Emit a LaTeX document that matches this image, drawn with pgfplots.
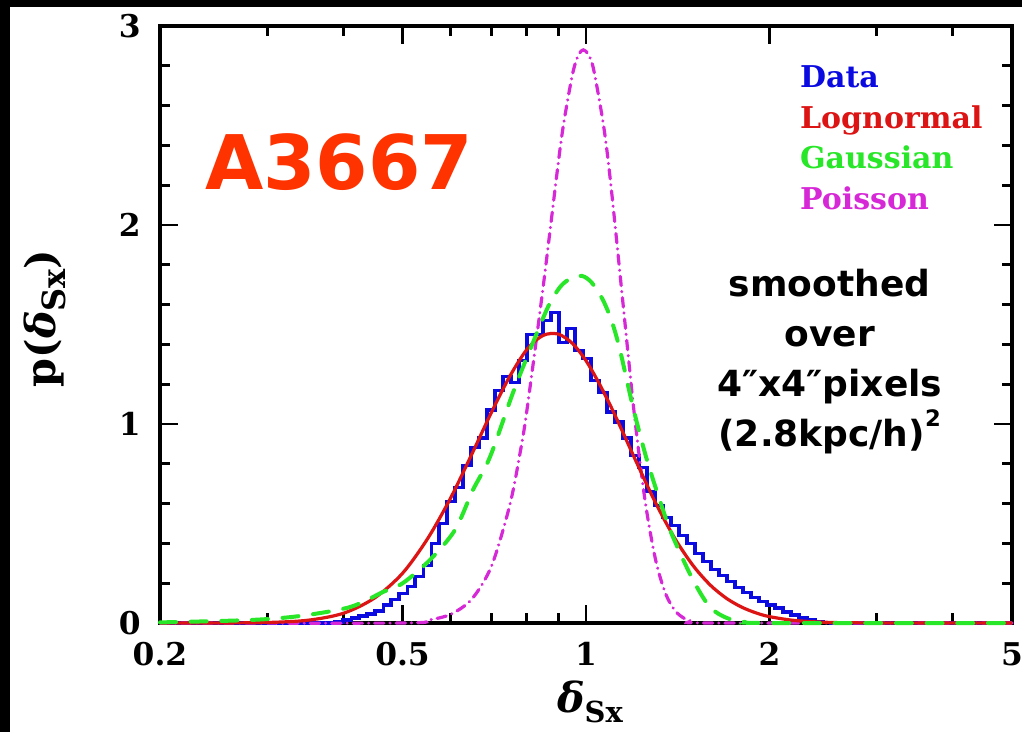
\documentclass[border=0pt]{standalone}
\usepackage{fontspec}
\setmainfont{DejaVu Serif}
\newfontfamily\sansfont{DejaVu Sans}
\usepackage{pgfplots}
\pgfplotsset{compat=1.18}

\definecolor{datablue}{RGB}{10,10,225}
\definecolor{lognred}{RGB}{220,20,20}
\definecolor{gaussgreen}{RGB}{40,230,40}
\definecolor{poissmag}{RGB}{215,40,215}
\definecolor{titlered}{RGB}{255,51,0}

\begin{document}
\begin{tikzpicture}
\useasboundingbox (0,0) rectangle (766.5pt,549pt);
\clip (0,0) rectangle (766.5pt,549pt);
\fill[black] (0,0) rectangle (766.5pt,549pt);
\fill[white] (7.5pt,0) rectangle (766.5pt,543.75pt);
\begin{axis}[
  at={(120pt,81.75pt)}, anchor=south west,
  scale only axis, width=639pt, height=447.75pt,
  xmode=log, xmin=0.2, xmax=5, ymin=0, ymax=3,
  xtick={0.2,0.5,1,2,5}, xticklabels={0.2,0.5,1,2,5},
  minor xtick={0.3,0.4,0.6,0.7,0.8,0.9,3,4},
  ytick={0,1,2,3}, yticklabels={0,1,2,3},
  minor ytick={0.2,0.4,0.6,0.8,1.2,1.4,1.6,1.8,2.2,2.4,2.6,2.8},
  tick align=inside, tick pos=both,
  major tick length=13.5pt, minor tick length=7.5pt,
  tick style={line width=2.2pt, black},
  axis line style={line width=3pt},
  clip=false,
  ticklabel style={font=\fontsize{23.5}{26}\selectfont\bfseries},
  xticklabel style={anchor=north, yshift=-11pt},
  yticklabel style={anchor=east, xshift=-11pt},
  xlabel={\textit{δ}\textsubscript{Sx}},
  ylabel={p(\textit{δ}{\fontsize{24}{24}\selectfont\raisebox{-0.3em}{Sx}})},
  label style={font=\fontsize{31}{34}\selectfont\bfseries},
  xlabel style={at={(axis description cs:0.505,-0.150)}, anchor=base},
  ylabel style={at={(axis description cs:-0.135,0.51)}, anchor=center},
]
% Data histogram
\addplot[const plot, datablue, line width=2.4pt] coordinates {
(0.2,0) (0.3875,0.005) (0.3994,0.015) (0.4117,0.025) (0.4243,0.035) (0.4373,0.045)
(0.4507,0.06) (0.4646,0.09) (0.4788,0.12) (0.4935,0.15) (0.5087,0.185) (0.5243,0.235)
(0.5404,0.29) (0.5570,0.40) (0.5740,0.50) (0.5916,0.61) (0.6098,0.68) (0.6285,0.79)
(0.6478,0.88) (0.6677,0.93) (0.6882,1.07) (0.7093,1.17) (0.7310,1.24) (0.7535,1.21)
(0.7766,1.32) (0.8004,1.45) (0.8250,1.45) (0.8503,1.52) (0.8764,1.56) (0.9033,1.41)
(0.9310,1.48) (0.9596,1.37) (0.9890,1.33) (1.0194,1.22) (1.0506,1.16) (1.0829,1.06)
(1.1161,1.01) (1.1504,0.93) (1.1857,0.84) (1.2220,0.78) (1.2595,0.66) (1.2982,0.59)
(1.3380,0.53) (1.3791,0.49) (1.4214,0.44) (1.4650,0.40) (1.5099,0.35) (1.5562,0.31)
(1.6040,0.27) (1.6532,0.24) (1.7039,0.21) (1.7562,0.18) (1.8100,0.155) (1.8656,0.13)
(1.9228,0.11) (1.9818,0.09) (2.0426,0.075) (2.1053,0.055) (2.1698,0.04) (2.2364,0.025)
(2.3050,0.015) (2.3757,0.008) (2.4486,0.003) (2.5237,0) (5,0)
};
% Poisson
\addplot[poissmag, line width=2.4pt, line cap=round, dash pattern=on 7pt off 4.5pt on 0.1pt off 4.5pt, smooth, tension=0.5] coordinates {
(0.2,0) (0.5,0) (0.55,0.014) (0.6,0.044) (0.65,0.121) (0.7,0.287) (0.75,0.593) (0.78,0.859)
(0.8,1.07) (0.85,1.682) (0.9,2.306) (0.92,2.518) (0.95,2.756) (0.97,2.849) (0.99,2.88)
(1.01,2.854) (1.03,2.777) (1.07,2.488) (1.10,2.185) (1.15,1.606) (1.20,1.052) (1.25,0.615)
(1.30,0.321) (1.35,0.149) (1.40,0.062) (1.45,0.023) (1.50,0.0075) (1.6,0) (5,0)
};
% Lognormal
\addplot[lognred, line width=2.4pt, smooth] coordinates {
(0.2,0) (0.25,0.0002) (0.3,0.0025) (0.35,0.014) (0.4,0.049) (0.45,0.126) (0.5,0.250)
(0.55,0.425) (0.6,0.630) (0.65,0.850) (0.7,1.060) (0.75,1.240) (0.8,1.375) (0.85,1.445)
(0.9,1.452) (0.95,1.405) (1.0,1.318) (1.05,1.206) (1.1,1.084) (1.15,0.957) (1.2,0.832)
(1.3,0.605) (1.4,0.423) (1.5,0.287) (1.6,0.190) (1.7,0.124) (1.8,0.080) (1.9,0.051)
(2.0,0.032) (2.2,0.0127) (2.5,0.0031) (3.0,0.0003) (5,0)
};
% Gaussian
\addplot[gaussgreen, line width=3pt, line cap=round, dash pattern=on 12pt off 11pt, smooth, tension=0.5] coordinates {
(0.2,0.003) (0.281,0.015) (0.339,0.035) (0.410,0.080) (0.4645,0.156) (0.5009,0.201)
(0.5546,0.317) (0.6095,0.467) (0.6523,0.668) (0.6958,0.834) (0.7587,1.156) (0.8092,1.372)
(0.8662,1.588) (0.9065,1.688) (0.9412,1.729) (0.985,1.744) (1.0228,1.709) (1.0662,1.623)
(1.1031,1.513) (1.1369,1.372) (1.1943,1.085) (1.2590,0.819) (1.3377,0.568) (1.3890,0.432)
(1.4983,0.216) (1.5973,0.080) (1.7032,0.025) (1.8233,0.005) (2.0,0) (5,0)
};
% legend-like labels
\node[anchor=base west, inner sep=0, text=datablue, font=\fontsize{22.5}{24}\selectfont\bfseries] at (rel axis cs:0.751,0.8978) {Data};
\node[anchor=base west, inner sep=0, text=lognred, font=\fontsize{22.5}{24}\selectfont\bfseries] at (rel axis cs:0.751,0.8291) {Lognormal};
\node[anchor=base west, inner sep=0, text=gaussgreen, font=\fontsize{22.5}{24}\selectfont\bfseries] at (rel axis cs:0.751,0.7621) {Gaussian};
\node[anchor=base west, inner sep=0, text=poissmag, font=\fontsize{22.5}{24}\selectfont\bfseries] at (rel axis cs:0.751,0.6918) {Poisson};
% title
\node[anchor=base west, inner sep=0, text=titlered, font=\sansfont\bfseries\fontsize{56.5}{60}\selectfont] at (rel axis cs:0.0528,0.7253) {A3667};
% annotation
\node[anchor=north, inner sep=0, align=center, font=\sansfont\bfseries\fontsize{27}{37.5}\selectfont] at (rel axis cs:0.786,0.593) {smoothed\\over\\4″x4″pixels\\(2.8kpc/h)\raisebox{0.55em}{\fontsize{17}{17}\selectfont 2}};
\end{axis}
\end{tikzpicture}
\end{document}
